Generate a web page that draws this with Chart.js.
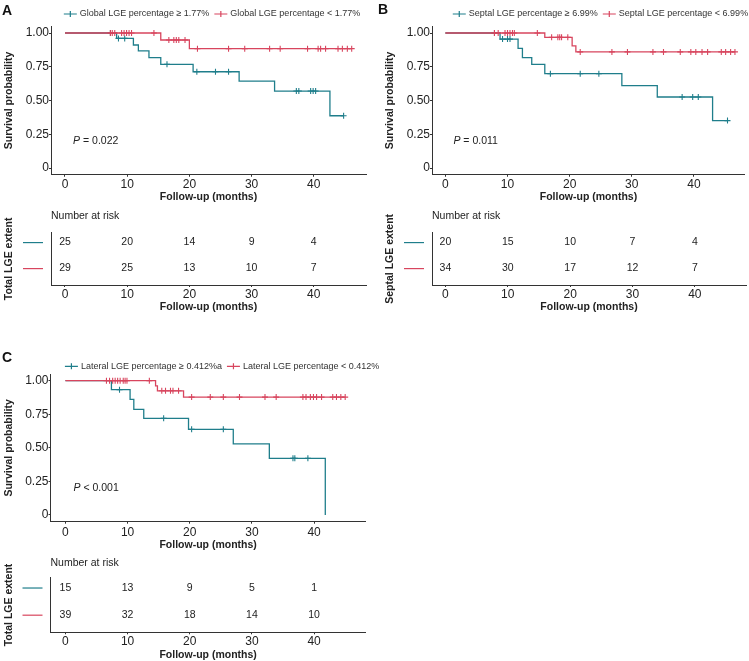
<!DOCTYPE html>
<html lang="en">
<head>
  <meta charset="UTF-8">
  <title>LGE extent and survival</title>
  <script src="https://cdn.jsdelivr.net/npm/chart.js@4.4.0/dist/chart.umd.min.js"></script>
  <style>
    body { margin: 0; background: #fff; }
    #wrap { position: relative; width: 749px; height: 661px; background: #fff; font-family: 'Liberation Sans', Arial, sans-serif; }
    #wrap canvas { position: absolute; }
    .tag { position: absolute; font-weight: bold; font-size: 14px; line-height: 1; color: #111; }
  </style>
</head>
<body>
  <div id="wrap">
    <canvas id="kmA" width="372" height="205" style="left:0;top:0"></canvas>
    <canvas id="riskA" width="372" height="110" style="left:0;top:205px"></canvas>
    <canvas id="kmB" width="368" height="205" style="left:381px;top:0"></canvas>
    <canvas id="riskB" width="368" height="110" style="left:381px;top:205px"></canvas>
    <canvas id="kmC" width="470" height="213" style="left:0;top:340px"></canvas>
    <canvas id="riskC" width="470" height="108" style="left:0;top:553px"></canvas>
    <div class="tag" style="left:2px;top:3px">A</div>
    <div class="tag" style="left:378px;top:2px">B</div>
    <div class="tag" style="left:2px;top:350px">C</div>
  </div>
  <script>
    // shared axes
    const xTicks = [0, 10, 20, 30, 40];
    const yTicks = [0, 0.25, 0.5, 0.75, 1];
    const yTickLabels = ['0', '0.25', '0.50', '0.75', '1.00'];
    const riskTimes = [0, 10, 20, 30, 40];

    // panel A - global LGE
    const aLabels = ['Global LGE percentage \u2265 1.77%', 'Global LGE percentage < 1.77%'];
    const aHighTimes = [8.3, 11.0, 11.8, 13.5, 15.4, 20.6, 28.0, 33.7, 42.6];
    const aHighSurv = [0.96, 0.911, 0.867, 0.817, 0.768, 0.713, 0.644, 0.570, 0.387];
    const aHighCens = [7.3, 8.6, 9.6, 16.4, 21.2, 24.2, 26.3, 37.2, 37.6, 39.5, 39.9, 40.3, 44.8];
    const aLowTimes = [15.4, 20.0];
    const aLowSurv = [0.948, 0.884];
    const aLowCens = [7.3, 7.6, 8.0, 9.1, 9.5, 9.9, 10.3, 10.7, 14.3, 16.7, 17.5, 17.9, 18.3, 19.3, 21.3, 26.3, 28.9, 32.9, 34.6, 39.0, 40.7, 41.1, 41.9, 43.9, 44.6, 45.4, 46.1];
    const aRiskHigh = [25, 20, 14, 9, 4];
    const aRiskLow = [29, 25, 13, 10, 7];
    const aPval = '= 0.022';

    // panel B - septal LGE
    const bLabels = ['Septal LGE percentage \u2265 6.99%', 'Septal LGE percentage < 6.99%'];
    const bHighTimes = [8.8, 11.7, 12.4, 13.9, 16.0, 28.4, 34.1, 43.0];
    const bHighSurv = [0.955, 0.886, 0.817, 0.768, 0.699, 0.610, 0.526, 0.351];
    const bHighCens = [7.9, 9.2, 10.0, 10.4, 16.9, 21.7, 24.7, 38.1, 39.8, 40.7, 45.4];
    const bLowTimes = [16.0, 20.4, 21.0];
    const bLowSurv = [0.968, 0.905, 0.86];
    const bLowCens = [7.9, 8.5, 9.6, 10.0, 10.4, 10.8, 11.1, 14.8, 17.1, 18.1, 18.4, 18.7, 19.7, 21.7, 26.8, 29.3, 33.4, 35.1, 37.8, 39.5, 40.3, 41.3, 42.2, 44.4, 45.1, 45.9, 46.6];
    const bRiskHigh = [20, 15, 10, 7, 4];
    const bRiskLow = [34, 30, 17, 12, 7];
    const bPval = '= 0.011';

    // panel C - lateral LGE
    const cLabels = ['Lateral LGE percentage \u2265 0.412%a', 'Lateral LGE percentage < 0.412%'];
    const cHighTimes = [7.4, 10.4, 11.0, 12.6, 19.8, 27.0, 32.8, 41.8];
    const cHighSurv = [0.933, 0.861, 0.787, 0.72, 0.638, 0.529, 0.422, 0];
    const cHighCens = [8.7, 15.8, 20.3, 25.4, 36.6, 36.9, 39.0];
    const cLowTimes = [14.5, 14.8, 19.0];
    const cLowSurv = [0.962, 0.925, 0.878];
    const cLowCens = [6.6, 7.1, 7.6, 8.0, 8.4, 8.8, 9.3, 9.6, 9.9, 13.5, 15.5, 16.1, 16.9, 17.3, 18.2, 20.3, 23.3, 25.4, 28.0, 32.1, 33.9, 38.2, 38.7, 39.4, 39.9, 40.4, 41.2, 43.0, 43.6, 44.3, 45.0];
    const cRiskHigh = [15, 13, 9, 5, 1];
    const cRiskLow = [39, 32, 18, 14, 10];
    const cPval = '< 0.001';

    const tealColor = '#1f7e8b';
    const redColor = '#d8455e';
    const textColor = '#222';
    const axisColor = '#333';
    const fontFamily = "'Liberation Sans', Arial, sans-serif";

    Chart.defaults.font.family = fontFamily;
    Chart.defaults.color = textColor;

    function survAt(times, surv, t) {
      let s = 1;
      times.forEach((e, i) => { if (e <= t) s = surv[i]; });
      return s;
    }

    function kmPoints(times, surv, cens) {
      const pts = [{ x: 0, y: 1, c: false }];
      times.forEach((t, i) => pts.push({ x: t, y: surv[i], c: false }));
      cens.forEach(t => pts.push({ x: t, y: survAt(times, surv, t), c: true }));
      pts.sort((p, q) => p.x - q.x);
      return pts;
    }

    const kmLegend = {
      id: 'kmLegend',
      afterDraw(chart, args, opts) {
        const { ctx, chartArea } = chart;
        ctx.save();
        ctx.font = '9px ' + fontFamily;
        const items = chart.data.datasets.map(ds => ({ text: ds.label, color: ds.borderColor }));
        const symW = 13, gap = 3, itemGap = 5;
        const widths = items.map(it => symW + gap + ctx.measureText(it.text).width);
        const total = widths.reduce((a, b) => a + b, 0) + itemGap * (items.length - 1);
        let x = (chartArea.left + chartArea.right) / 2 + opts.shift - total / 2;
        const y = chartArea.top - opts.offY;
        items.forEach((it, i) => {
          ctx.strokeStyle = it.color;
          ctx.lineWidth = 1.2;
          ctx.beginPath();
          ctx.moveTo(x, y);
          ctx.lineTo(x + symW, y);
          ctx.moveTo(x + symW / 2, y - 3);
          ctx.lineTo(x + symW / 2, y + 3);
          ctx.stroke();
          ctx.fillStyle = '#333';
          ctx.textBaseline = 'middle';
          ctx.textAlign = 'left';
          ctx.fillText(it.text, x + symW + gap, y);
          x += widths[i] + itemGap;
        });
        ctx.restore();
      }
    };

    const pvalMark = {
      id: 'pvalMark',
      afterDraw(chart, args, opts) {
        const { ctx, scales } = chart;
        const x = scales.x.getPixelForValue(opts.x);
        const y = scales.y.getPixelForValue(opts.y);
        ctx.save();
        ctx.fillStyle = textColor;
        ctx.textBaseline = 'middle';
        ctx.textAlign = 'left';
        ctx.font = 'italic 10.5px ' + fontFamily;
        ctx.fillText('P', x, y);
        const w = ctx.measureText('P').width;
        ctx.font = '10.5px ' + fontFamily;
        ctx.fillText(' ' + opts.text, x + w, y);
        ctx.restore();
      }
    };

    const riskText = {
      id: 'riskText',
      afterDatasetsDraw(chart) {
        const { ctx } = chart;
        ctx.save();
        ctx.font = '10.5px ' + fontFamily;
        ctx.fillStyle = textColor;
        ctx.textAlign = 'center';
        ctx.textBaseline = 'middle';
        chart.data.datasets.forEach((ds, d) => {
          chart.getDatasetMeta(d).data.forEach((el, i) => {
            ctx.fillText(String(ds.data[i].n), el.x, el.y);
          });
        });
        ctx.restore();
      }
    };

    const strataKey = {
      id: 'strataKey',
      afterDraw(chart) {
        const { ctx, chartArea, scales } = chart;
        ctx.save();
        ctx.lineWidth = 1.2;
        chart.data.datasets.forEach(ds => {
          const y = scales.y.getPixelForValue(ds.data[0].y);
          ctx.strokeStyle = ds.borderColor;
          ctx.beginPath();
          ctx.moveTo(chartArea.left - 28, y);
          ctx.lineTo(chartArea.left - 8, y);
          ctx.stroke();
        });
        ctx.restore();
      }
    };

    function xScale(o) {
      return {
        type: 'linear',
        min: o.xMin,
        max: o.xMax,
        afterBuildTicks: s => { s.ticks = xTicks.map(v => ({ value: v })); },
        afterFit: s => { s.height = o.xH; },
        grid: { display: true, drawOnChartArea: false, drawTicks: true, tickLength: 2, color: axisColor },
        border: { display: true, color: axisColor, width: 1 },
        ticks: { font: { size: 12 }, color: textColor, padding: o.tickPad, maxRotation: 0, autoSkip: false },
        title: {
          display: true,
          text: 'Follow-up (months)',
          font: { size: 10.5, weight: 'bold' },
          color: textColor,
          padding: { top: 0, bottom: o.titlePad }
        }
      };
    }

    function kmChart(id, o) {
      new Chart(document.getElementById(id), {
        type: 'line',
        data: {
          datasets: [
            {
              label: o.labels[0],
              data: kmPoints(o.highTimes, o.highSurv, o.highCens),
              borderColor: tealColor,
              pointBorderColor: tealColor,
              order: 1
            },
            {
              label: o.labels[1],
              data: kmPoints(o.lowTimes, o.lowSurv, o.lowCens),
              borderColor: redColor,
              pointBorderColor: redColor,
              order: 0
            }
          ]
        },
        options: {
          responsive: false,
          animation: false,
          events: [],
          layout: { padding: o.pad },
          elements: {
            line: { stepped: true, borderWidth: 1.3, fill: false, tension: 0 },
            point: {
              pointStyle: 'cross',
              radius: ctx => (ctx.raw && ctx.raw.c ? 3 : 0),
              borderWidth: 1.1,
              hoverRadius: 0
            }
          },
          plugins: {
            legend: { display: false },
            tooltip: { enabled: false },
            kmLegend: { shift: o.legShift, offY: o.legOffY },
            pvalMark: { x: 1.3, y: 0.2, text: o.pval }
          },
          scales: {
            x: xScale(o),
            y: {
              type: 'linear',
              min: -0.05,
              max: 1.05,
              afterBuildTicks: s => { s.ticks = yTicks.map(v => ({ value: v })); },
              afterFit: s => { s.width = o.yW; },
              grid: { display: true, drawOnChartArea: false, drawTicks: true, tickLength: 2, color: axisColor },
              border: { display: true, color: axisColor, width: 1 },
              ticks: { font: { size: 12 }, color: textColor, padding: 0, callback: (v, i) => yTickLabels[i] },
              title: {
                display: true,
                text: 'Survival probability',
                font: { size: 10.5, weight: 'bold' },
                color: textColor,
                padding: { top: 3, bottom: 0 }
              }
            }
          }
        },
        plugins: [kmLegend, pvalMark]
      });
    }

    function riskChart(id, o) {
      const rows = [
        { n: o.high, y: 2, color: tealColor },
        { n: o.low, y: 1, color: redColor }
      ];
      new Chart(document.getElementById(id), {
        type: 'scatter',
        data: {
          datasets: rows.map(r => ({
            data: riskTimes.map((t, i) => ({ x: t, y: r.y, n: r.n[i] })),
            pointRadius: 0,
            borderColor: r.color,
            backgroundColor: r.color
          }))
        },
        options: {
          responsive: false,
          animation: false,
          events: [],
          layout: { padding: o.pad },
          plugins: {
            legend: { display: false },
            tooltip: { enabled: false },
            title: {
              display: true,
              text: 'Number at risk',
              align: 'start',
              fullSize: false,
              font: { size: 10.5, weight: 'normal' },
              color: textColor,
              padding: { top: o.tTop, bottom: o.tBot }
            }
          },
          scales: {
            x: xScale(o),
            y: {
              type: 'linear',
              min: 0.37,
              max: 2.38,
              afterFit: s => { s.width = o.yW; },
              ticks: { display: false },
              grid: { display: false },
              border: { display: true, color: axisColor, width: 1 },
              title: {
                display: true,
                text: o.yTitle,
                font: { size: 10.5, weight: 'bold' },
                color: textColor,
                padding: { top: 3, bottom: 0 }
              }
            }
          }
        },
        plugins: [riskText, strataKey]
      });
    }

    kmChart('kmA', {
      labels: aLabels, highTimes: aHighTimes, highSurv: aHighSurv, highCens: aHighCens,
      lowTimes: aLowTimes, lowSurv: aLowSurv, lowCens: aLowCens, pval: aPval,
      xMin: -2.25, xMax: 48.4, yW: 51, xH: 30.25, tickPad: 0.8, titlePad: 1.7,
      pad: { top: 26.25, right: 6, bottom: 0, left: 0 }, legShift: 3.5, legOffY: 12.25
    });
    riskChart('riskA', {
      high: aRiskHigh, low: aRiskLow, yTitle: 'Total LGE extent',
      xMin: -2.25, xMax: 48.4, yW: 51, xH: 30, tickPad: 0.3, titlePad: 1.7,
      tTop: 4.7, tBot: 10.4, pad: { top: 0, right: 6, bottom: 0, left: 0 }
    });

    kmChart('kmB', {
      labels: bLabels, highTimes: bHighTimes, highSurv: bHighSurv, highCens: bHighCens,
      lowTimes: bLowTimes, lowSurv: bLowSurv, lowCens: bLowCens, pval: bPval,
      xMin: -2.15, xMax: 48.2, yW: 51, xH: 30.25, tickPad: 0.8, titlePad: 1.7,
      pad: { top: 26.25, right: 3, bottom: 0, left: 0 }, legShift: 12, legOffY: 12.25
    });
    riskChart('riskB', {
      high: bRiskHigh, low: bRiskLow, yTitle: 'Septal LGE extent',
      xMin: -2.15, xMax: 48.2, yW: 51, xH: 30, tickPad: 0.3, titlePad: 1.7,
      tTop: 4.7, tBot: 10.4, pad: { top: 0, right: 3, bottom: 0, left: 0 }
    });

    kmChart('kmC', {
      labels: cLabels, highTimes: cHighTimes, highSurv: cHighSurv, highCens: cHighCens,
      lowTimes: cLowTimes, lowSurv: cLowSurv, lowCens: cLowCens, pval: cPval,
      xMin: -2.4, xMax: 48.3, yW: 50.5, xH: 31.3, tickPad: 1.5, titlePad: 2,
      pad: { top: 34, right: 104.3, bottom: 0, left: 0 }, legShift: 14, legOffY: 7.7
    });
    riskChart('riskC', {
      high: cRiskHigh, low: cRiskLow, yTitle: 'Total LGE extent',
      xMin: -2.4, xMax: 48.3, yW: 50.5, xH: 28.7, tickPad: 0, titlePad: 0,
      tTop: 4, tBot: 8.1, pad: { top: 0, right: 104.3, bottom: 0, left: 0 }
    });
  </script>
</body>
</html>
